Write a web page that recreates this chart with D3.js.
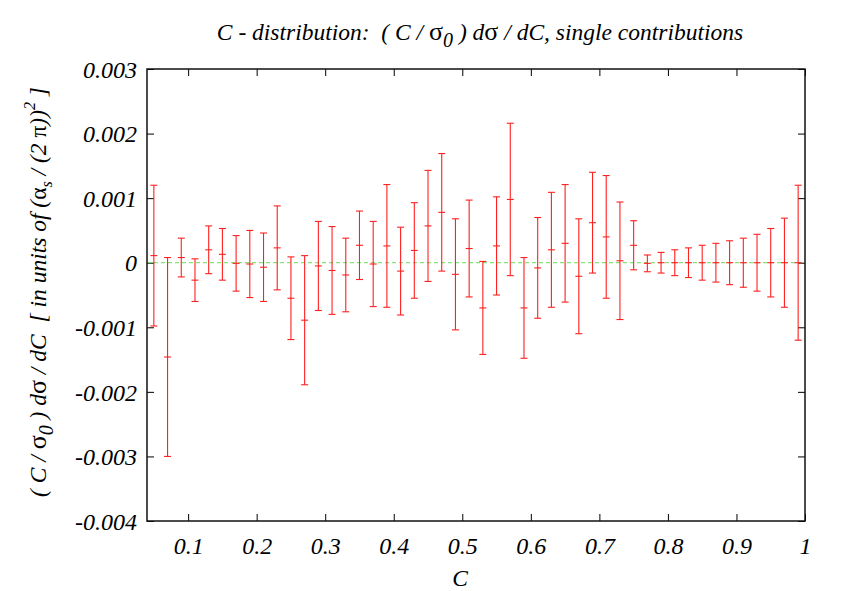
<!DOCTYPE html>
<html>
<head>
<meta charset="utf-8">
<script src="https://cdn.jsdelivr.net/npm/d3@7"></script>
<style>
body{margin:0;background:#fff;}
svg text{font-family:"Liberation Serif","Times New Roman",serif;font-style:italic;fill:#000;}
.up{font-style:normal;}
</style>
</head>
<body>
<svg id="chart" width="845" height="591"></svg>
<script>
// bin centres of the C histogram
var binCenters = [0.05,0.07,0.09,0.11,0.13,0.15,0.17,0.19,0.21,0.23,0.25,0.27,0.29,0.31,0.33,0.35,
	0.37,0.39,0.41,0.43,0.45,0.47,0.49,0.51,0.53,0.55,0.57,0.59,0.61,0.63,0.65,0.67,
	0.69,0.71,0.73,0.75,0.77,0.79,0.81,0.83,0.85,0.87,0.89,0.91,0.93,0.95,0.97,0.99];

// central values
var values = [0.00011,-0.00146,0.00008,-0.00027,0.00020,0.00013,-0.00001,-0.00002,-0.00007,0.00023,-0.00055,-0.00089,-0.00005,-0.00012,-0.00019,0.00027,
	-0.00002,0.00026,-0.00013,0.00019,0.00057,0.00078,-0.00018,0.00022,-0.00070,0.00026,0.00098,-0.00070,-0.00008,0.00020,0.00030,-0.00021,
	0.00062,0.00040,0.00003,0.00027,-0.00001,0,0,0,0,0,0,0,0,0,0,0];

// half widths of the error bars
var errors = [0.00109,0.00154,0.00030,0.00033,0.00037,0.00040,0.00043,0.00052,0.00053,0.00065,0.00064,0.00100,0.00069,0.00068,0.00057,0.00053,
	0.00066,0.00095,0.00068,0.00074,0.00086,0.00091,0.00086,0.00075,0.00072,0.00076,0.00118,0.00078,0.00078,0.00089,0.00091,0.00089,
	0.00078,0.00095,0.00091,0.00038,0.00013,0.00016,0.00020,0.00023,0.00027,0.00030,0.00034,0.00038,0.00044,0.00053,0.00069,0.00120];

var xTicks = [0.1,0.2,0.3,0.4,0.5,0.6,0.7,0.8,0.9,1];
var yTicks = [-0.004,-0.003,-0.002,-0.001,0,0.001,0.002,0.003];

var margin = {top:69, right:40, bottom:70, left:147};
var svg = d3.select("#chart");
var width = +svg.attr("width") - margin.left - margin.right,
	height = +svg.attr("height") - margin.top - margin.bottom;

var x = d3.scaleLinear().domain([0.04, 1]).range([0, width]);
var y = d3.scaleLinear().domain([-0.004, 0.003]).range([height, 0]);

var g = svg.append("g").attr("transform", "translate(" + margin.left + "," + margin.top + ")");

var fmtX = function(d){ return d === 1 ? "1" : d.toFixed(1); };
var fmtY = function(d){ return d === 0 ? "0" : d.toFixed(3); };

// axes with inward ticks, mirrored on top and right
var gX = g.append("g").attr("transform", "translate(0," + height + ")")
	.call(d3.axisBottom(x).tickValues(xTicks).tickSize(-7).tickPadding(16).tickFormat(fmtX));
var gY = g.append("g")
	.call(d3.axisLeft(y).tickValues(yTicks).tickSize(-7).tickPadding(10).tickFormat(fmtY));
var gX2 = g.append("g")
	.call(d3.axisTop(x).tickValues(xTicks).tickSize(-7).tickFormat(""));
var gY2 = g.append("g").attr("transform", "translate(" + width + ",0)")
	.call(d3.axisRight(y).tickValues(yTicks).tickSize(-7).tickFormat(""));

[gX, gY, gX2, gY2].forEach(function(a){
	a.select(".domain").remove();
	a.selectAll(".tick line").attr("stroke", "#000").attr("stroke-width", 1);
	a.selectAll(".tick text").attr("font-size", 24).attr("font-family", null);
});
gY.selectAll(".tick text").attr("dy", "0.34em");

// zero line
g.append("line")
	.attr("x1", 0).attr("x2", width)
	.attr("y1", y(0)).attr("y2", y(0))
	.attr("stroke", "#66dd55").attr("stroke-width", 1)
	.attr("stroke-dasharray", "4,3");

// error bars
var bars = g.append("g").attr("class", "bars")
	.attr("stroke", "#ff2020").attr("stroke-width", 1.1)
	.selectAll("g").data(binCenters).enter().append("g");
var cap = 3.5;
bars.append("line")
	.attr("x1", function(d){ return x(d); }).attr("x2", function(d){ return x(d); })
	.attr("y1", function(d, i){ return y(values[i] - errors[i]); })
	.attr("y2", function(d, i){ return y(values[i] + errors[i]); });
bars.append("line")
	.attr("x1", function(d){ return x(d) - cap; }).attr("x2", function(d){ return x(d) + cap; })
	.attr("y1", function(d, i){ return y(values[i] - errors[i]); })
	.attr("y2", function(d, i){ return y(values[i] - errors[i]); });
bars.append("line")
	.attr("x1", function(d){ return x(d) - cap; }).attr("x2", function(d){ return x(d) + cap; })
	.attr("y1", function(d, i){ return y(values[i] + errors[i]); })
	.attr("y2", function(d, i){ return y(values[i] + errors[i]); });
bars.append("line")
	.attr("x1", function(d){ return x(d) - cap; }).attr("x2", function(d){ return x(d) + cap; })
	.attr("y1", function(d, i){ return y(values[i]); })
	.attr("y2", function(d, i){ return y(values[i]); });

// frame
g.append("rect")
	.attr("width", width).attr("height", height)
	.attr("fill", "none").attr("stroke", "#111").attr("stroke-width", 1.5);

// title
var title = svg.append("text")
	.attr("x", 480).attr("y", 40)
	.attr("text-anchor", "middle").attr("font-size", 23.5)
	.attr("xml:space", "preserve");
title.append("tspan").text("C - distribution:  ( C / ");
title.append("tspan").attr("class", "up").attr("font-size", 26).text("σ");
title.append("tspan").attr("dy", 7).attr("font-size", 20).text("0");
title.append("tspan").attr("dy", -7).text(" ) d");
title.append("tspan").attr("class", "up").attr("font-size", 26).text("σ");
title.append("tspan").text(" / dC, single contributions");

// x label
svg.append("text")
	.attr("x", 460).attr("y", 586)
	.attr("text-anchor", "middle").attr("font-size", 23.5)
	.text("C");

// y label
var yl = svg.append("text")
	.attr("transform", "translate(46,292) rotate(-90)")
	.attr("text-anchor", "middle").attr("font-size", 23.5)
	.attr("xml:space", "preserve");
yl.append("tspan").text("( C / ");
yl.append("tspan").attr("class", "up").attr("font-size", 26).text("σ");
yl.append("tspan").attr("dy", 7).attr("font-size", 20).text("0");
yl.append("tspan").attr("dy", -7).text(" ) d");
yl.append("tspan").attr("class", "up").attr("font-size", 26).text("σ");
yl.append("tspan").text(" / dC  [ in units of (");
yl.append("tspan").attr("class", "up").text("α");
yl.append("tspan").attr("dy", 6).attr("font-size", 16).text("s");
yl.append("tspan").attr("dy", -6).text(" / (2 ");
yl.append("tspan").attr("class", "up").text("π");
yl.append("tspan").text("))");
yl.append("tspan").attr("dy", -11).attr("font-size", 16).text("2");
yl.append("tspan").attr("dy", 11).text(" ]");
</script>
</body>
</html>
